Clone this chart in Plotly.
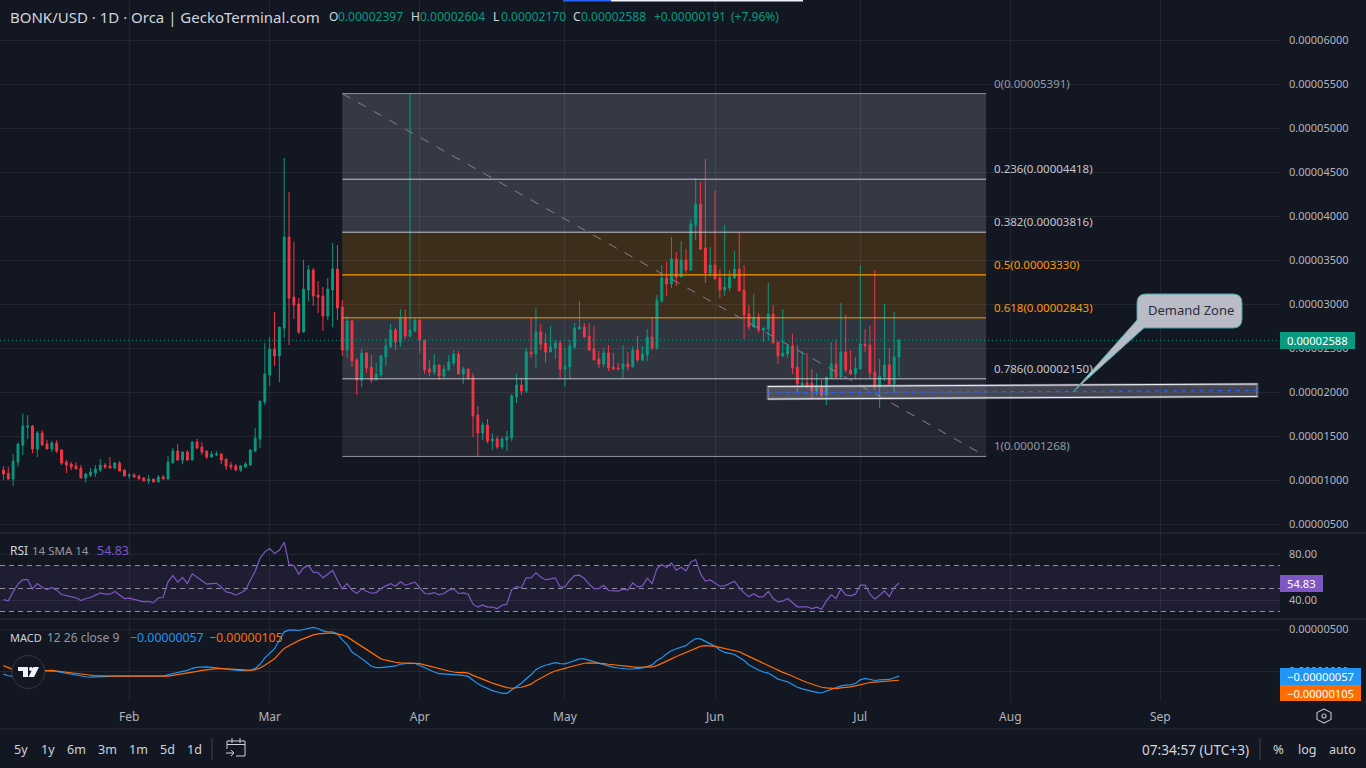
import pandas as pd
import plotly.graph_objects as go

# ---------- data (prices in units of 0.00001 USD) ----------
FIRST_DAY = "2024-01-06"
PRICE_UNIT = 1e-5
opens = [1.113,1.076,1.011,1.204,1.397,1.602,1.613,1.352,1.534,1.409,1.352,1.420,1.340,1.204,1.181,1.159,1.136,1.023,1.057,1.079,
 1.113,1.170,1.159,1.136,1.193,1.113,1.045,1.057,1.045,1.023,.988,1.011,.977,1.034,1.011,1.193,1.329,1.227,1.318,1.227,
 1.431,1.375,1.329,1.261,1.284,1.295,1.238,1.170,1.159,1.113,1.147,1.170,1.329,1.466,1.886,2.193,2.488,2.409,2.727,3.761,
 3.079,3.000,2.681,3.159,3.386,3.102,3.091,2.863,3.159,3.397,2.966,2.477,
 2.807,2.364,2.136,2.443,2.284,2.136,2.193,2.398,2.511,2.705,2.568,2.841,2.636,2.693,2.818,2.591,2.261,2.227,2.307,2.182,2.250,2.330,2.432,2.205,2.261,
 2.170,1.739,1.534,1.625,1.443,1.466,1.375,1.455,1.477,1.943,2.080,2.011,2.455,2.432,2.682,2.557,2.455,2.500,2.557,2.261,2.284,2.511,2.716,2.739,2.636,2.489,2.375,2.318,2.443,2.284,2.273,2.261,2.318,2.284,2.477,
 2.364,2.420,2.625,2.500,3.034,3.295,3.227,3.511,3.307,3.500,3.386,3.898,4.136,3.636,3.352,3.443,3.295,3.159,3.182,3.295,3.398,3.159,2.886,2.739,2.852,2.705,2.716,2.886,2.568,2.409,2.432,2.523,2.284,2.068,2.102,2.102,2.011,2.057,1.966,2.159,2.318,2.170,2.455,2.250,2.205,2.261,2.545,2.534,2.227,2.057,2.170,2.307,2.091,2.397]
highs = [1.159,1.151,1.295,1.424,1.757,1.738,1.625,1.556,1.568,1.454,1.443,1.454,1.352,1.227,1.204,1.204,1.170,1.079,1.136,1.170,
 1.238,1.193,1.261,1.204,1.215,1.125,1.079,1.079,1.057,1.034,1.057,1.011,1.057,1.057,1.272,1.363,1.409,1.329,1.340,1.443,
 1.466,1.431,1.329,1.329,1.329,1.306,1.238,1.204,1.181,1.170,1.204,1.352,1.590,1.897,2.556,2.625,2.909,2.738,4.659,4.272,
 3.704,3.068,3.500,3.443,3.409,3.261,3.193,3.295,3.693,3.670,3.045,2.863,
 2.818,2.386,2.489,2.455,2.420,2.330,2.420,2.614,2.773,2.727,2.943,2.932,5.390,2.830,2.818,2.591,2.364,2.432,2.307,2.307,2.420,2.477,2.466,2.284,2.261,
 2.216,1.841,1.659,1.693,1.534,1.500,1.489,1.557,1.977,2.205,2.159,2.500,2.841,2.955,2.773,2.670,2.750,2.591,2.591,2.500,2.591,2.784,3.034,2.784,2.784,2.750,2.466,2.500,2.534,2.443,2.330,2.534,2.455,2.523,2.636,
 2.523,2.716,2.852,3.102,3.443,3.477,3.761,3.591,3.716,3.625,3.966,4.432,4.386,4.648,3.648,4.284,3.398,3.898,3.386,3.602,3.818,3.443,2.989,3.114,2.898,2.727,3.239,2.989,2.568,2.943,2.534,2.659,2.534,2.466,2.443,2.261,2.216,2.136,2.170,2.568,2.602,3.011,2.875,2.477,2.398,3.443,2.716,2.750,3.386,2.375,3.000,2.500,2.909,2.604]
lows = [1.000,1.000,.931,1.151,1.284,1.466,1.306,1.261,1.397,1.352,1.318,1.306,1.170,1.079,1.113,1.125,1.023,.965,1.034,1.034,
 1.091,1.125,1.136,1.125,1.102,1.045,1.011,1.023,1.011,.988,.954,.977,.977,1.011,1.011,1.193,1.215,1.181,1.215,1.227,
 1.352,1.284,1.238,1.261,1.272,1.181,1.113,1.113,1.102,1.091,1.136,1.159,1.318,1.363,1.852,2.068,2.295,2.113,2.613,2.534,
 2.829,2.659,2.681,3.034,2.977,2.897,2.693,2.818,2.738,2.818,2.409,2.386,
 2.284,1.966,2.057,2.216,2.102,2.136,2.170,2.295,2.511,2.477,2.511,2.602,2.614,2.682,2.443,2.205,2.182,2.193,2.136,2.159,2.250,2.295,2.205,2.091,2.136,
 1.489,1.261,1.455,1.420,1.341,1.352,1.352,1.330,1.443,1.875,1.966,1.989,2.386,2.273,2.477,2.330,2.455,2.375,2.159,2.057,2.148,2.489,2.716,2.614,2.466,2.364,2.273,2.284,2.239,2.250,2.261,2.159,2.239,2.284,2.341,
 2.352,2.352,2.477,2.477,3.011,3.091,3.182,3.205,3.307,3.352,3.375,3.727,3.614,3.239,3.307,3.284,3.068,3.091,3.148,3.284,3.148,2.602,2.705,2.727,2.670,2.568,2.580,2.557,2.318,2.398,2.386,2.205,1.989,2.057,2.057,1.920,1.966,1.943,1.852,2.159,2.159,2.148,2.216,2.193,2.148,2.261,2.455,2.159,2.023,1.818,2.125,2.080,1.989,2.170]
closes = [1.068,1.011,1.215,1.409,1.613,1.613,1.352,1.534,1.397,1.352,1.420,1.329,1.193,1.170,1.147,1.125,1.023,1.068,1.091,1.125,
 1.170,1.147,1.136,1.193,1.102,1.045,1.057,1.034,1.011,.988,1.011,.977,1.034,1.011,1.204,1.329,1.227,1.318,1.227,1.431,
 1.363,1.318,1.261,1.295,1.295,1.227,1.159,1.147,1.113,1.159,1.181,1.340,1.477,1.897,2.204,2.488,2.409,2.738,3.761,3.068,
 2.988,2.681,3.170,3.386,3.091,3.079,2.863,3.170,3.397,2.954,2.477,2.806,
 2.352,2.136,2.443,2.273,2.136,2.205,2.409,2.523,2.705,2.568,2.841,2.636,2.705,2.818,2.591,2.250,2.227,2.307,2.182,2.261,2.341,2.432,2.205,2.261,2.159,
 1.727,1.534,1.625,1.443,1.466,1.375,1.466,1.489,1.955,2.080,2.011,2.455,2.432,2.682,2.545,2.455,2.511,2.557,2.261,2.295,2.523,2.727,2.739,2.625,2.477,2.364,2.318,2.443,2.273,2.261,2.261,2.318,2.284,2.477,2.364,
 2.432,2.625,2.500,3.045,3.295,3.227,3.511,3.307,3.500,3.386,3.909,4.136,3.625,3.352,3.443,3.284,3.159,3.193,3.307,3.398,3.148,2.875,2.739,2.852,2.705,2.727,2.886,2.557,2.409,2.443,2.523,2.273,2.091,2.102,2.057,2.011,2.057,1.966,2.170,2.318,2.170,2.455,2.250,2.205,2.273,2.545,2.523,2.216,2.057,2.182,2.307,2.091,2.398,2.588]

rsi = [40.4,39.3,47.1,53.8,57.8,57.8,49.7,54.3,50.9,49.1,50.9,48.6,44.8,43.9,43.0,41.9,39.6,41.3,42.2,43.9,46.2,45.1,45.1,47.4,44.2,41.3,41.6,40.7,39.3,38.4,38.7,37.5,41.9,42.2,55.8,61.3,55.5,59.6,54.3,62.8,59.9,57.0,53.8,54.3,54.6,51.4,47.1,46.2,44.2,46.2,48.6,57.2,65.1,76.1,81.9,84.8,80.4,83.3,90.3,70.9,70.0,62.5,68.0,70.0,64.2,63.9,59.3,62.5,65.7,57.2,49.7,54.3,48.6,45.7,49.7,47.7,45.9,46.5,50.0,52.3,54.3,52.0,55.8,52.9,54.1,55.5,50.9,45.7,45.4,46.5,44.5,45.7,48.6,49.7,45.7,
 46.2,45.1,36.4,33.8,35.8,33.8,33.8,32.6,35.5,36.4,49.1,51.7,50.6,59.3,59.3,63.6,60.1,57.5,58.1,59.3,51.4,51.4,57.2,61.3,61.6,58.7,53.8,50.0,50.0,52.9,48.3,48.0,47.7,49.4,48.6,54.9,51.4,52.3,59.0,54.3,67.4,70.9,68.3,72.3,65.9,68.6,65.4,73.2,75.2,62.8,56.4,57.5,54.9,52.0,52.3,54.6,56.4,50.9,46.2,42.8,45.4,42.8,43.0,47.4,41.3,38.4,39.0,41.3,37.5,34.1,34.1,34.1,32.6,33.8,32.0,39.3,44.5,41.3,49.7,44.5,43.6,45.1,52.9,52.9,45.1,41.0,44.2,48.0,43.0,50.9,54.83]

# MACD values in units of 0.000001
MACD_UNIT = 1e-6
macd_line = [-.32,-.52,-.60,-.60,-.52,-.28,-.12,.04,.08,.08,.08,0,-.12,-.24,-.36,-.44,-.56,-.64,-.68,-.68,-.64,-.60,-.60,-.56,-.56,-.56,-.56,-.60,-.64,-.64,-.64,-.64,-.64,-.56,-.40,-.24,-.12,0,.12,.36,.48,.52,.52,.48,.44,.36,.28,.20,.12,.08,.08,.12,.32,.84,1.60,2.20,2.68,3.68,4.68,4.88,4.92,4.84,4.96,5.16,5.20,5.08,4.80,4.68,4.68,4.44,3.72,3.20,2.28,1.92,1.52,1.08,.60,.44,.44,.52,.60,.64,.84,.92,.96,.96,.68,.44,.16,-.08,-.28,-.32,-.28,-.32,-.44,
 -.48,-.60,-1.08,-1.48,-1.76,-2.04,-2.28,-2.44,-2.60,-2.60,-2.20,-1.80,-1.40,-.88,-.40,.20,.52,.72,.92,1.04,.92,.88,1.08,1.32,1.48,1.48,1.32,1.12,.92,.84,.64,.48,.40,.32,.28,.28,.32,.40,.56,.76,1.28,1.60,2.08,2.44,2.68,2.84,3.04,3.52,3.88,3.84,3.56,3.32,2.96,2.52,2.24,2.12,2.00,1.64,1.28,.76,.44,.16,-.08,-.20,-.56,-.92,-1.08,-1.24,-1.56,-1.88,-2.08,-2.24,-2.36,-2.48,-2.56,-2.36,-2.12,-2.00,-1.72,-1.64,-1.60,-1.44,-1.00,-.84,-.96,-1.08,-1.00,-.96,-.96,-.76,-.57]
macd_signal = [.68,.40,.20,.04,-.04,-.04,0,.04,.08,.12,.12,.04,-.04,-.12,-.20,-.28,-.36,-.44,-.48,-.52,-.52,-.56,-.56,-.56,-.56,-.56,-.60,-.60,-.60,-.64,-.64,-.64,-.64,-.64,-.56,-.48,-.40,-.32,-.20,-.08,0,.12,.20,.28,.32,.32,.32,.28,.24,.20,.16,.12,.20,.40,.72,1.08,1.48,2.12,2.72,3.04,3.36,3.64,3.88,4.12,4.32,4.44,4.52,4.52,4.52,4.44,4.32,4.08,3.72,3.36,3.00,2.60,2.24,1.84,1.48,1.32,1.16,1.08,1.00,.96,.92,.92,.92,.76,.60,.44,.28,.16,.04,-.08,-.16,
 -.12,-.20,-.48,-.68,-.92,-1.16,-1.40,-1.60,-1.80,-1.92,-2.00,-1.96,-1.88,-1.72,-1.52,-1.12,-.80,-.48,-.20,.04,.24,.36,.52,.68,.84,.96,1.00,1.00,.96,.92,.84,.76,.68,.60,.56,.52,.48,.48,.48,.52,.68,.92,1.20,1.48,1.76,2.00,2.28,2.56,2.80,2.96,3.04,3.04,2.96,2.84,2.72,2.60,2.48,2.32,2.04,1.76,1.48,1.20,.96,.72,.44,.12,-.12,-.32,-.60,-.84,-1.08,-1.32,-1.52,-1.72,-1.88,-1.96,-2.04,-2.04,-1.96,-1.92,-1.84,-1.72,-1.56,-1.44,-1.32,-1.28,-1.24,-1.20,-1.16,-1.08,-1.05]

for series in (opens, highs, lows, closes, rsi, macd_line, macd_signal):
    assert len(series) == 186, len(series)

fib_ratios = ["0", "0.236", "0.382", "0.5", "0.618", "0.786", "1"]
fib_prices = [0.00005391, 0.00004418, 0.00003816, 0.00003330, 0.00002843, 0.00002150, 0.00001268]
fib_start, fib_end = "2024-03-16", "2024-07-27"

month_ticks = ["2024-02-01", "2024-03-01", "2024-04-01", "2024-05-01", "2024-06-01", "2024-07-01", "2024-08-01", "2024-09-01"]
month_labels = ["Feb", "Mar", "Apr", "May", "Jun", "Jul", "Aug", "Sep"]
price_ticks = [0.000005 * k for k in range(1, 13)]
price_labels = [f"{v:.8f}" for v in price_ticks]
rsi_ticks, rsi_labels = [40, 80], ["40.00", "80.00"]
macd_ticks, macd_labels = [0, 0.000005], ["0.00000000", "0.00000500"]

zone_start, zone_end = "2024-06-11 22:00", "2024-09-21"
zone_top = [0.00002063, 0.00002091]
zone_mid = [0.00001991, 0.00002017]
zone_bottom = [0.00001920, 0.00001949]

# ---------- styles ----------
BG = "#131722"
GRID = "rgba(240,243,250,0.07)"
UP, DOWN = "#089981", "#f23645"
TXT = "#d1d4dc"
AXIS_TXT = "#b2b5be"
DIM = "#9598a1"
ORANGE = "#ff9800"
PURPLE = "#7e57c2"
BLUE = "#2196f3"
MACD_OR = "#ff6d00"
FONT = "Noto Sans"
W, H = 1366, 768
RIGHT = 1280


def X(px):
    return px / W


def Y(py):
    return 1 - py / H


dates = pd.date_range(FIRST_DAY, periods=len(opens)).strftime("%Y-%m-%d").tolist()
u = PRICE_UNIT

fig = go.Figure()
fig.add_trace(go.Candlestick(
    x=dates,
    open=[v * u for v in opens], high=[v * u for v in highs],
    low=[v * u for v in lows], close=[v * u for v in closes],
    increasing=dict(line=dict(color=UP, width=1), fillcolor=UP),
    decreasing=dict(line=dict(color=DOWN, width=1), fillcolor=DOWN),
    whiskerwidth=0, xaxis="x", yaxis="y", hoverinfo="skip",
))
fig.add_trace(go.Scatter(x=dates, y=rsi, mode="lines", line=dict(color=PURPLE, width=1.2),
                         xaxis="x2", yaxis="y2", hoverinfo="skip"))
fig.add_trace(go.Scatter(x=dates, y=[v * MACD_UNIT for v in macd_line], mode="lines",
                         line=dict(color=BLUE, width=1.2), xaxis="x3", yaxis="y3", hoverinfo="skip"))
fig.add_trace(go.Scatter(x=dates, y=[v * MACD_UNIT for v in macd_signal], mode="lines",
                         line=dict(color=MACD_OR, width=1.2), xaxis="x3", yaxis="y3", hoverinfo="skip"))

shapes = []
annotations = []


def text(px, py, s, color=TXT, size=12, anchor="left", **kw):
    annotations.append(dict(xref="paper", yref="paper", x=X(px), y=Y(py), text=s, showarrow=False,
                            xanchor=anchor, yanchor="middle", font=dict(family=FONT, size=size, color=color),
                            borderpad=0, **kw))


def path_shape(d, line=None, fill=None, width=1):
    shapes.append(dict(type="path", xref="paper", yref="paper", path=d, fillcolor=fill or "rgba(0,0,0,0)",
                       line=dict(color=line or "rgba(0,0,0,0)", width=width), layer="above"))


def P(points, close=False):
    out = "M" + " L".join(f"{X(a):.5f},{Y(b):.5f}" for a, b in points)
    return out + (" Z" if close else "")


# Fibonacci bands
band_fill = ["rgba(120,123,134,0.34)", "rgba(120,123,134,0.34)", "rgba(255,152,0,0.18)",
             "rgba(255,152,0,0.18)", "rgba(120,123,134,0.30)", "rgba(120,123,134,0.18)"]
for i, f in enumerate(band_fill):
    shapes.append(dict(type="rect", xref="x", yref="y", x0=fib_start, x1=fib_end, y0=fib_prices[i], y1=fib_prices[i + 1],
                       fillcolor=f, line_width=0, layer="below"))
level_col = ["#8f929c", "#c4c6ce", "#c4c6ce", ORANGE, ORANGE, "#c4c6ce", "#8f929c"]
label_col = [DIM, "#c4c6ce", "#c4c6ce", ORANGE, ORANGE, "#c4c6ce", DIM]
for r, p, lc, tc in zip(fib_ratios, fib_prices, level_col, label_col):
    shapes.append(dict(type="line", xref="x", yref="y", x0=fib_start, x1=fib_end, y0=p, y1=p,
                       line=dict(color=lc, width=1.3 if r == "0.5" else 1), layer="above"))
    annotations.append(dict(xref="x", yref="y", x=fib_end, y=p, xshift=7, yshift=10.5, text=f"{r}({p:.8f})",
                            xanchor="left", yanchor="middle", showarrow=False, borderpad=0,
                            font=dict(family=FONT, size=11.5, color=tc)))
shapes.append(dict(type="line", xref="x", yref="y", x0=fib_start, x1=fib_end, y0=fib_prices[0], y1=fib_prices[-1],
                   line=dict(color="#80838d", width=1, dash="dash"), layer="above"))

# Demand zone channel (underscore replaces the space inside a shape path date)
z0, z1 = zone_start.replace(" ", "_"), zone_end
zone_path = (f"M{z0},{zone_top[0]:.8f} L{z1},{zone_top[1]:.8f} "
             f"L{z1},{zone_bottom[1]:.8f} L{z0},{zone_bottom[0]:.8f} Z")
shapes.append(dict(type="path", xref="x", yref="y", path=zone_path, fillcolor="rgba(150,153,165,0.36)",
                   line=dict(color="rgba(150,153,165,0.55)", width=2.5), layer="above"))
for arr, col, dash, wd in ((zone_top, "#eceef2", "solid", 1), (zone_bottom, "#eceef2", "solid", 1), (zone_mid, "#2962ff", "4px,5px", 1.2)):
    shapes.append(dict(type="line", xref="x", yref="y", x0=zone_start, x1=zone_end, y0=arr[0], y1=arr[1],
                       line=dict(color=col, width=wd, dash=dash), layer="above"))

# Last-price dotted line
shapes.append(dict(type="line", xref="paper", yref="y", x0=0, x1=X(RIGHT), y0=closes[-1] * u, y1=closes[-1] * u,
                   line=dict(color=UP, width=1, dash="1px,3px"), layer="above"))

# RSI band and levels
shapes.append(dict(type="rect", xref="paper", yref="y2", x0=0, x1=X(RIGHT), y0=30, y1=70,
                   fillcolor="rgba(126,87,194,0.10)", line_width=0, layer="below"))
for lvl in (70, 50, 30):
    shapes.append(dict(type="line", xref="paper", yref="y2", x0=0, x1=X(RIGHT), y0=lvl, y1=lvl,
                       line=dict(color="#8f929b", width=1, dash="5px,4px"), layer="below"))

# Pane separators and top strip
for py in (533, 619, 729):
    shapes.append(dict(type="line", xref="paper", yref="paper", x0=0, x1=1, y0=Y(py), y1=Y(py),
                       line=dict(color="#2a2e39", width=1), layer="above"))
shapes.append(dict(type="rect", xref="paper", yref="paper", x0=X(563), x1=X(611), y0=Y(1.5), y1=1,
                   fillcolor="#2962ff", line_width=0, layer="above"))
shapes.append(dict(type="rect", xref="paper", yref="paper", x0=X(611), x1=X(803), y0=Y(1.5), y1=1,
                   fillcolor="#f0f3fa", line_width=0, layer="above"))

# Demand Zone callout
r = 9
bx0, bx1, by0, by1 = 1137, 1242, 294, 328
callout = (f"M{X(bx0 + r):.5f},{Y(by0):.5f} L{X(bx1 - r):.5f},{Y(by0):.5f} "
           f"Q{X(bx1):.5f},{Y(by0):.5f} {X(bx1):.5f},{Y(by0 + r):.5f} "
           f"L{X(bx1):.5f},{Y(by1 - r):.5f} Q{X(bx1):.5f},{Y(by1):.5f} {X(bx1 - r):.5f},{Y(by1):.5f} "
           f"L{X(1144):.5f},{Y(by1):.5f} L{X(1073):.5f},{Y(392):.5f} L{X(bx0):.5f},{Y(320):.5f} "
           f"L{X(bx0):.5f},{Y(by0 + r):.5f} Q{X(bx0):.5f},{Y(by0):.5f} {X(bx0 + r):.5f},{Y(by0):.5f} Z")
path_shape(callout, line="#3fa7a8", fill="#b9bcc6", width=1)
text(1190.5, 309.5, "Demand Zone", color="#2a2e39", size=13, anchor="center")

# TradingView badge
shapes.append(dict(type="circle", xref="paper", yref="paper", x0=X(28.3 - 16.5), x1=X(28.3 + 16.5), y0=Y(672 + 16.5), y1=Y(672 - 16.5),
                   fillcolor=BG, line=dict(color="#363a45", width=1), layer="above"))
path_shape(P([(18, 667), (28, 667), (28, 677), (23, 677), (23, 671), (18, 671)], True), fill="#f0f3fa")
shapes.append(dict(type="circle", xref="paper", yref="paper", x0=X(29), x1=X(33), y0=Y(671), y1=Y(667),
                   fillcolor="#f0f3fa", line_width=0, layer="above"))
path_shape(P([(33.5, 667), (39, 667), (34, 677), (28.5, 677)], True), fill="#f0f3fa")

# Calendar icon
path_shape(P([(227, 749), (227, 741), (245, 741), (245, 756), (236, 756)]), line=TXT)
path_shape(P([(227, 744.5), (245, 744.5)]), line=TXT)
path_shape(P([(232, 738), (232, 743)]), line=TXT)
path_shape(P([(240, 738), (240, 743)]), line=TXT)
path_shape(P([(226, 753), (234, 753)]), line=TXT)
path_shape(P([(231, 750), (234, 753), (231, 756)]), line=TXT)
for px in (212, 1260):
    shapes.append(dict(type="line", xref="paper", yref="paper", x0=X(px), x1=X(px), y0=Y(738), y1=Y(760),
                       line=dict(color="#434651", width=1), layer="above"))

# Settings hexagon
path_shape(P([(1324, 709), (1331, 712.5), (1331, 719.5), (1324, 723), (1317, 719.5), (1317, 712.5)], True), line=AXIS_TXT, width=1.2)
shapes.append(dict(type="circle", xref="paper", yref="paper", x0=X(1322), x1=X(1326), y0=Y(718), y1=Y(714),
                   line=dict(color=AXIS_TXT, width=1.2), layer="above"))

# Header legend
text(9, 17, "BONK/USD · 1D · Orca | GeckoTerminal.com", color=TXT, size=15)
for px, label in zip((328, 410, 492, 571.6), "OHLC"):
    text(px, 17, label, color=TXT, size=12)
for px, val in zip((337, 419, 499.5, 580), ("0.00002397", "0.00002604", "0.00002170", "0.00002588")):
    text(px, 17, val, color=UP, size=12)
text(652.7, 17, "+0.00000191", color=UP, size=12)
text(730, 17, "(+7.96%)", color=UP, size=12)

# Indicator legends
text(9, 550, "RSI", color=TXT, size=12)
text(31, 550, "14 SMA 14", color=DIM, size=11.5)
text(96, 550, "54.83", color=PURPLE, size=12.5)
text(9, 637, "MACD", color=TXT, size=11)
text(46, 637, "12 26 close 9", color=DIM, size=12)
text(129, 637, "−0.00000057", color=BLUE, size=12.3)
text(208, 637, "−0.00000105", color=MACD_OR, size=12.3)

# Right-hand value tags


def tag(px0, px1, py0, py1, s, color):
    shapes.append(dict(type="rect", xref="paper", yref="paper", x0=X(px0), x1=X(px1), y0=Y(py1), y1=Y(py0),
                       fillcolor=color, line_width=0, layer="above"))
    text((px0 + px1) / 2, (py0 + py1) / 2, s, color="#ffffff", size=11.2, anchor="center")


tag(RIGHT, 1355, 332, 349, "0.00002588", UP)
tag(RIGHT, 1323, 575, 592, "54.83", PURPLE)
tag(RIGHT, 1361, 668, 685, "−0.00000057", BLUE)
tag(RIGHT, 1361, 685, 701, "−0.00000105", MACD_OR)

# Bottom toolbar
for px, s in zip((21, 47.5, 76, 107.5, 138, 167.5, 194.5), ("5y", "1y", "6m", "3m", "1m", "5d", "1d")):
    text(px, 749, s, color=TXT, size=12.5, anchor="center")
text(1195.5, 749, "07:34:57 (UTC+3)", color=TXT, size=13.6, anchor="center")
text(1278, 749, "%", color=TXT, size=13, anchor="center")
text(1306.5, 749, "log", color=TXT, size=12.5, anchor="center")
text(1342, 749, "auto", color=TXT, size=12.5, anchor="center")

tick_font = dict(family=FONT, size=11, color=AXIS_TXT)
x_common = dict(range=["2024-01-05 07:00", "2024-09-25 17:00"], domain=[0, X(RIGHT)], type="date",
                tickmode="array", tickvals=month_ticks, ticktext=month_labels,
                showgrid=True, gridcolor=GRID, gridwidth=1, zeroline=False, showline=False, ticks="",
                tickfont=dict(family=FONT, size=12, color=AXIS_TXT))
y_common = dict(side="right", showgrid=True, gridcolor=GRID, gridwidth=1, zeroline=False, showline=False,
                ticks="", tickmode="array", tickfont=tick_font, ticklabelstandoff=8)

fig.update_layout(
    width=W, height=H, autosize=False, margin=dict(l=0, r=0, t=0, b=0, pad=0),
    paper_bgcolor=BG, plot_bgcolor=BG, showlegend=False, boxgap=0.45, hovermode=False,
    font=dict(family=FONT),
    xaxis=dict(x_common, anchor="y", showticklabels=False, rangeslider=dict(visible=False)),
    xaxis2=dict(x_common, anchor="y2", matches="x", showticklabels=False),
    xaxis3=dict(x_common, anchor="y3", matches="x", showticklabels=True, ticklabelstandoff=7),
    yaxis=dict(y_common, anchor="x", domain=[Y(533), 1], range=[0.398e-5, 6.4545e-5],
               tickvals=price_ticks, ticktext=price_labels),
    yaxis2=dict(y_common, anchor="x2", domain=[Y(619), Y(533)], range=[23.5, 98.3],
                tickvals=rsi_ticks, ticktext=rsi_labels),
    yaxis3=dict(y_common, anchor="x3", domain=[Y(701), Y(619)], range=[-3.51e-6, 6.2e-6],
                tickvals=macd_ticks, ticktext=macd_labels),
    shapes=shapes, annotations=annotations,
)

fig.write_html("out.html", config=dict(displayModeBar=False),
               post_script="document.body.style.margin='0';document.body.style.overflow='hidden';document.body.style.background='#131722';")
